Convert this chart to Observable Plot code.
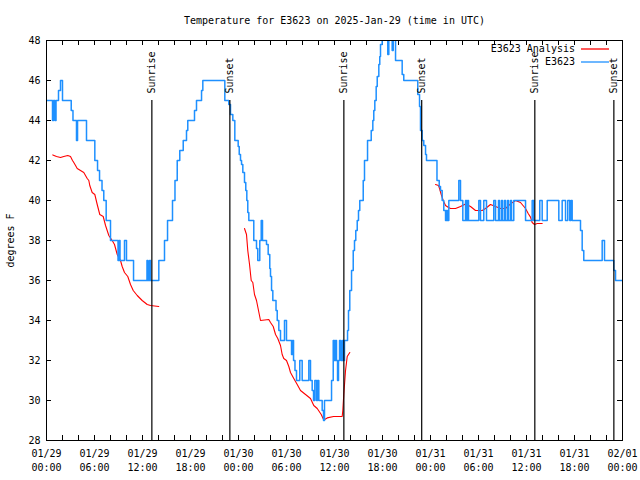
<!DOCTYPE html>
<html><head><meta charset="utf-8">
<script src="https://cdn.jsdelivr.net/npm/d3@7"></script>
<script src="https://cdn.jsdelivr.net/npm/@observablehq/plot@0.6"></script>
<style>
html,body{margin:0;padding:0;background:#fff;}
</style>
</head><body><div id="chart"></div>
<script>
// ---------- data ----------
const title = "Temperature for E3623 on 2025-Jan-29 (time in UTC)";
const yLabel = "degrees F";
const startTime = "2025-01-29T00:00:00Z";
const endTime = "2025-02-01T00:00:00Z";
const yDomain = [28, 48];
const yTicks = [28, 30, 32, 34, 36, 38, 40, 42, 44, 46, 48];
const xMajorHours = [0, 6, 12, 18, 24, 30, 36, 42, 48, 54, 60, 66, 72];
const xMinorHours = [0, 2, 4, 6, 8, 10, 12, 14, 16, 18, 20, 22, 24, 26, 28, 30, 32, 34, 36, 38, 40, 42, 44, 46, 48, 50, 52, 54, 56, 58, 60, 62, 64, 66, 68, 70, 72];
const tickFormat = "%m/%d\n%H:%M";
const seriesNames = ["E3623 Analysis", "E3623"];
const seriesColors = ["#ff0000", "#1e90ff"];

// sunrise / sunset markers (hours after start)
const eventHours = [13.17, 22.92, 37.17, 46.9, 61.04, 70.92];
const eventLabels = ["Sunrise", "Sunset", "Sunrise", "Sunset", "Sunrise", "Sunset"];
const eventLineTop = 45;

// E3623 observations (hours after start, deg F), step-after
const obsHours = [
  0.09, 0.75, 0.88, 1.06, 1.19, 1.5, 1.75, 2.0, 3.09, 3.31, 3.75, 3.88, 5.0, 6.04, 6.38, 6.63, 6.94, 7.16, 7.46, 8.0,
  8.94, 9.06, 9.19, 9.75, 10.0, 10.88, 12.56, 12.69, 12.88, 13.0, 14.04, 14.75, 15.13, 15.75, 16.06, 16.34, 16.66, 17.09, 17.5, 17.66,
  18.5, 18.75, 19.38, 19.54, 22.29, 22.79, 23.0, 23.29, 23.54, 23.96, 24.09, 24.25, 24.38, 24.54, 24.75, 24.91, 25.04, 25.16, 25.29, 25.91,
  26.25, 26.41, 26.66, 26.84, 27.0, 27.5, 27.71, 27.91, 28.0, 28.13, 28.29, 28.69, 28.84, 29.04, 29.25, 29.75, 30.0, 30.63, 30.75, 30.88,
  31.06, 31.25, 31.66, 31.96, 32.79, 33.0, 33.21, 33.38, 33.54, 33.75, 33.88, 34.04, 34.46, 34.63, 34.75, 35.63, 35.84, 36.0, 36.13, 36.25,
  36.38, 36.5, 36.63, 36.81, 37.0, 37.13, 37.25, 37.63, 37.75, 37.91, 38.13, 38.34, 38.5, 38.66, 38.84, 39.0, 39.16, 39.59, 39.75, 40.13,
  40.59, 40.79, 40.91, 41.04, 41.21, 41.34, 41.54, 41.66, 41.75, 41.96, 42.66, 42.79, 43.21, 43.34, 43.63, 44.46, 44.66, 46.41, 46.63, 46.75,
  46.96, 47.16, 47.38, 47.5, 48.81, 49.09, 49.25, 49.46, 49.66, 49.88, 50.0, 50.13, 50.29, 51.54, 51.75, 52.04, 52.38, 52.5, 52.63, 52.75,
  54.04, 54.25, 54.66, 55.0, 55.91, 56.13, 56.5, 56.63, 56.88, 57.0, 57.25, 57.38, 57.63, 57.75, 58.0, 58.13, 58.41, 59.88, 60.71, 60.91,
  61.66, 61.96, 62.59, 64.04, 64.46, 64.88, 65.16, 65.41, 65.56, 65.71, 66.75, 66.96, 67.16, 69.46, 69.75, 70.91, 71.13, 71.94
];
const obsTemps = [
  45, 44, 45, 44, 45, 45.5, 46, 45, 44.5, 44, 43, 44, 43, 42, 41.5, 41, 40.5, 40, 39, 38,
  37, 38, 37, 38, 37, 36, 37, 36, 37, 36, 37, 38, 39, 40, 41, 42, 42.5, 43, 43.5, 44,
  44.5, 45, 45.5, 46, 45, 44.8, 44.3, 44, 43, 42.7, 42.3, 42, 41.8, 41.4, 40.9, 40.5, 40, 39.4, 39, 38,
  37.6, 37, 38, 39, 38, 37.8, 37.3, 36.6, 36.2, 35.5, 35, 34.5, 34, 33.5, 33, 34, 33, 32.3, 33, 32,
  31.5, 31, 32, 31, 32, 31, 30.5, 30, 31, 30, 31, 30, 29.5, 29, 30, 31, 33, 32, 33, 32,
  31, 32, 33, 32, 33, 32, 33, 33.5, 34.5, 35.5, 36.5, 37.5, 38, 38.5, 39, 39.5, 40, 41, 42, 43,
  43.5, 44, 44.5, 45, 45.7, 46.2, 46.8, 47.2, 47.8, 48.6, 47.3, 48.6, 47.5, 48.6, 47, 46.3, 46, 45.3, 44.7, 43.5,
  43, 42.75, 42.3, 42, 41, 40.7, 40.5, 40, 39.5, 39, 39.5, 39, 40, 41, 40, 39, 40, 39, 40, 39,
  40, 39, 40, 39, 40, 39, 40, 39, 40, 39, 40, 39, 40, 39, 40, 39, 40, 39, 40, 39,
  40, 39, 40, 39, 40, 39, 40, 39, 40, 39, 38.5, 37.5, 37, 38, 37, 36.5, 36, 36
];

// E3623 Analysis, three separate runs (hours after start, deg F)
const anaHours1 = [
  0.79, 1.25, 1.75, 2.16, 2.66, 3.0, 3.25, 3.41, 3.63, 3.84, 4.25, 4.66, 5.09, 5.29, 5.41, 5.71, 6.04, 6.34, 6.66, 7.09,
  7.38, 7.79, 8.21, 8.5, 8.84, 9.25, 9.46, 9.75, 10.16, 10.5, 10.84, 11.34, 11.96, 12.59, 13.0, 14.04
];
const anaTemps1 = [
  42.28, 42.2, 42.15, 42.2, 42.25, 42.2, 42.0, 41.9, 41.75, 41.6, 41.5, 41.4, 41.1, 41.0, 40.75, 40.4, 40.3, 39.8, 39.3, 39.2,
  38.75, 38.25, 38.0, 37.8, 37.3, 37.0, 36.7, 36.4, 36.2, 35.8, 35.5, 35.25, 35.0, 34.8, 34.75, 34.7
];
const anaHours2 = [
  24.75, 25.0, 25.16, 25.38, 25.59, 25.79, 26.0, 26.25, 26.5, 26.75, 27.79, 28.0, 28.34, 28.63, 28.91, 29.25, 29.46, 29.66, 30.0, 30.29,
  30.5, 30.91, 31.34, 31.75, 32.38, 33.0, 33.41, 33.84, 34.34, 34.66, 35.09, 35.88, 36.96, 37.04, 37.16, 37.38, 37.59, 37.91
];
const anaTemps2 = [
  38.6, 38.3, 37.5, 36.8, 36.0, 35.9, 35.3, 35.0, 34.5, 34.0, 34.05, 33.9, 33.7, 33.3, 33.1, 32.75, 32.3, 32.1, 32.0, 31.7,
  31.4, 31.1, 30.8, 30.5, 30.3, 30.1, 29.75, 29.6, 29.3, 29.03, 29.13, 29.2, 29.2, 29.5, 30.3, 31.5, 32.2, 32.4
];
const anaHours3 = [
  48.63, 49.0, 49.13, 49.34, 49.59, 49.88, 50.25, 50.5, 50.91, 51.13, 51.75, 52.38, 53.0, 53.63, 54.46, 54.88, 55.5, 56.13, 56.75, 57.38,
  58.0, 58.63, 59.25, 59.88, 60.21, 60.5, 60.71, 61.0, 61.34, 61.96
];
const anaTemps3 = [
  40.8, 40.75, 40.6, 40.3, 40.0, 39.75, 39.65, 39.6, 39.6, 39.6, 39.7, 39.83, 39.7, 39.5, 39.5, 39.6, 39.8, 39.7, 39.6, 39.6,
  39.83, 40.0, 39.9, 39.6, 39.35, 39.17, 38.9, 38.8, 38.85, 38.85
];

// ---------- build tables ----------
const t0 = new Date(startTime).getTime();
const toDate = h => new Date(t0 + h * 3600000);
const obs = obsHours.map((h, i) => ({time: toDate(h), temp: obsTemps[i]}));
const ana = [[anaHours1, anaTemps1], [anaHours2, anaTemps2], [anaHours3, anaTemps3]]
  .flatMap(([hs, ts], s) => hs.map((h, i) => ({time: toDate(h), temp: ts[i], seg: s})));
const events = eventHours.map((h, i) => ({time: toDate(h), label: eventLabels[i], top: eventLineTop, bottom: yDomain[0]}));
const majors = xMajorHours.map(toDate);
const minors = xMinorHours.map(toDate);

function legend(index, scales, values, dims) {
  const g = d3.create("svg:g");
  const right = dims.width - dims.marginRight;
  seriesNames.forEach((name, i) => {
    const y = dims.marginTop + 9 + i * 13;
    g.append("text").attr("x", right - 47).attr("y", y).attr("dy", "0.32em")
      .attr("text-anchor", "end").attr("fill", "black").text(name);
    g.append("line").attr("x1", right - 41).attr("x2", right - 13)
      .attr("y1", y).attr("y2", y).attr("stroke", seriesColors[i]).attr("stroke-width", 1.3);
  });
  return g.node();
}

const chart = Plot.plot({
  width: 640,
  height: 480,
  marginTop: 40,
  marginRight: 18,
  marginBottom: 40,
  marginLeft: 46,
  style: {fontFamily: "'DejaVu Sans Mono', monospace", fontSize: "10px", background: "white", color: "black"},
  x: {type: "utc", domain: [new Date(startTime), new Date(endTime)]},
  y: {domain: yDomain},
  marks: [
    Plot.axisY({ticks: yTicks, tickSize: 0, tickPadding: 6, label: null}),
    Plot.axisX({ticks: majors, tickSize: 0, tickPadding: 6, tickFormat: d3.utcFormat(tickFormat), lineHeight: 1.45, label: null}),
    Plot.tickY(yTicks, {y: d => d, insetRight: 571, stroke: "black"}),
    Plot.tickY(yTicks, {y: d => d, insetLeft: 571, stroke: "black"}),
    Plot.tickX(minors, {x: d => d, insetTop: 395, stroke: "black"}),
    Plot.tickX(minors, {x: d => d, insetBottom: 395, stroke: "black"}),
    Plot.text([yLabel], {text: d => d, frameAnchor: "left", dx: -36, rotate: -90, textAnchor: "middle", lineAnchor: "middle", fill: "black"}),
    Plot.text([title], {text: d => d, frameAnchor: "top", dy: -20, textAnchor: "middle", lineAnchor: "middle", fill: "black"}),
    Plot.line(ana, {x: "time", y: "temp", z: "seg", stroke: seriesColors[0], strokeWidth: 1.1, clip: true}),
    Plot.line(obs, {x: "time", y: "temp", curve: "step-after", stroke: seriesColors[1], strokeWidth: 1.5, clip: true}),
    Plot.ruleX(events, {x: "time", y1: "bottom", y2: "top", stroke: "black", strokeWidth: 1.2}),
    Plot.text(events, {x: "time", y: "top", text: "label", rotate: -90, textAnchor: "start", lineAnchor: "middle", dy: -7, fill: "black"}),
    Plot.frame({stroke: "black"}),
    legend
  ]
});
document.getElementById("chart").appendChild(chart);
</script>
</body></html>
